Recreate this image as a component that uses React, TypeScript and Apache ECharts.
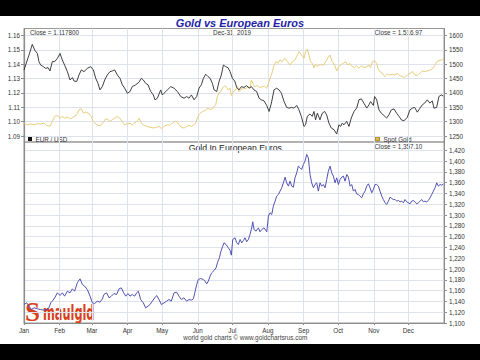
import React, { useEffect, useRef } from "react";
import * as echarts from "echarts";

// x = day of year 2019 (0 = Jan 1)
const monthNames = ["Jan", "Feb", "Mar", "Apr", "May", "Jun", "Jul", "Aug", "Sep", "Oct", "Nov", "Dec"];
const monthStarts = [0, 31, 59, 90, 120, 151, 181, 212, 243, 273, 304, 334];

const eurUsdTicks = [1.09, 1.1, 1.11, 1.12, 1.13, 1.14, 1.15, 1.16];
const goldUsdTicks = [1250, 1300, 1350, 1400, 1450, 1500, 1550, 1600];
const goldEurTicks = [1100, 1120, 1140, 1160, 1180, 1200, 1220, 1240, 1260, 1280, 1300, 1320, 1340, 1360, 1380, 1400, 1420];

const eurUsd: [number, number][] = [
  [0, 1.136], [2.9, 1.1429], [4.3, 1.1463], [7.2, 1.1538], [9.3, 1.1498], [11.6, 1.1475], [13, 1.1418], [14.5, 1.1394],
  [16.8, 1.1383], [18.8, 1.1371], [20.9, 1.1376], [22.6, 1.1353], [24.6, 1.1418], [26.7, 1.1418], [29, 1.1441], [31.3, 1.1475],
  [33.3, 1.1429], [35.3, 1.1394], [37.7, 1.1348], [40, 1.129], [42, 1.1307], [43.5, 1.1283], [45.8, 1.1279], [47.8, 1.1325],
  [49.8, 1.136], [52.1, 1.1348], [55, 1.1371], [57.9, 1.1383], [60.3, 1.136], [62.3, 1.1302], [64.3, 1.1267], [66, 1.1221],
  [68.1, 1.1244], [70.1, 1.129], [72.4, 1.1325], [74.7, 1.1348], [76.8, 1.1353], [78.8, 1.136], [81.1, 1.1325], [83.4, 1.1302],
  [85.5, 1.1256], [87.5, 1.1233], [89.8, 1.1198], [92.1, 1.121], [94.1, 1.1244], [97, 1.1256], [99.9, 1.1274], [102, 1.1302],
  [103.7, 1.129], [105.7, 1.1267], [107.8, 1.1256], [110.1, 1.121], [112.4, 1.1186], [113.8, 1.1152], [115.9, 1.1163], [118.8, 1.1221],
  [120.2, 1.1186], [121.7, 1.1198], [124.6, 1.1221], [127.5, 1.1244], [130.4, 1.1233], [133.3, 1.121], [136.2, 1.1175], [139.1, 1.1163],
  [141.4, 1.1175], [143.4, 1.1163], [145.5, 1.1186], [147.8, 1.1152], [150.1, 1.1175], [152.1, 1.1233], [154.1, 1.1256], [155.9, 1.1302],
  [157.9, 1.133], [159.9, 1.1314], [161.7, 1.1302], [163.7, 1.1267], [165.2, 1.1221], [167.5, 1.121], [169.5, 1.1279], [171.5, 1.1325],
  [173.3, 1.1394], [175.3, 1.1383], [177.3, 1.1376], [179.1, 1.1348], [181.1, 1.1302], [183.1, 1.1283], [184.9, 1.1238], [186.9, 1.1221],
  [188.9, 1.1244], [191.2, 1.1238], [193.5, 1.1251], [195.6, 1.1233], [197.6, 1.1244], [199.9, 1.1221], [202.2, 1.121], [204.3, 1.1163],
  [206.3, 1.1152], [208.6, 1.1145], [210.9, 1.1113], [213, 1.1071], [215, 1.1129], [217.3, 1.1221], [219.6, 1.1233], [221.6, 1.1221],
  [223.7, 1.1198], [226, 1.114], [228.3, 1.1099], [230.3, 1.1094], [232.4, 1.1099], [234.7, 1.1094], [237, 1.1113], [239, 1.1082],
  [241, 1.1037], [243.3, 1.0967], [244.7, 1.0978], [246.2, 1.1037], [248.5, 1.1053], [250.5, 1.1037], [252, 1.1071], [253.4, 1.1013],
  [254.9, 1.1059], [257.2, 1.1013], [259.2, 1.1059], [261.3, 1.1071], [263, 1.1048], [265, 1.099], [267, 1.0956], [269.4, 1.0944],
  [271.7, 1.0914], [273.7, 1.0978], [275.2, 1.0967], [276.6, 1.099], [278.1, 1.0978], [280.4, 1.1002], [282.4, 1.0967], [284.4, 1.1025],
  [286.8, 1.1071], [289.1, 1.1094], [291.1, 1.1152], [293.1, 1.1159], [295.4, 1.1129], [297.8, 1.1094], [299.8, 1.1117], [301.2, 1.114],
  [303.6, 1.1113], [304.7, 1.1175], [306.5, 1.1152], [308.5, 1.1082], [310.5, 1.1059], [312.8, 1.1043], [315.1, 1.1025], [317.2, 1.1048],
  [319.2, 1.1082], [321.5, 1.1089], [323.8, 1.1059], [325.9, 1.1037], [327.9, 1.1013], [330.2, 1.1006], [333.1, 1.103], [335.4, 1.1082],
  [337.5, 1.1094], [339.5, 1.1099], [341.8, 1.1066], [344.1, 1.1094], [346.1, 1.1117], [348.2, 1.1129], [350.5, 1.1152], [352.8, 1.1129],
  [354.8, 1.1145], [356.3, 1.1094], [358.6, 1.1099], [360.6, 1.1175], [362.6, 1.1186], [364.4, 1.1178],
];

const goldUsd: [number, number][] = [
  [0, 1295], [2.9, 1289], [5.8, 1292], [8.7, 1289], [11.6, 1293], [14.5, 1292], [17.4, 1295], [19.7, 1287],
  [22.6, 1284], [24.6, 1301], [26.7, 1318], [29, 1322], [31.3, 1312], [33.3, 1318], [35.3, 1312], [37.7, 1315],
  [40.6, 1310], [43.5, 1318], [45.8, 1324], [47.8, 1341], [49.8, 1345], [51.6, 1330], [53.6, 1333], [55.6, 1330],
  [57.9, 1322], [60.3, 1301], [62.3, 1292], [64.3, 1287], [66.6, 1287], [68.9, 1299], [71, 1310], [73, 1307],
  [74.7, 1301], [76.8, 1307], [78.8, 1312], [81.1, 1318], [83.4, 1312], [85.5, 1299], [87.5, 1289], [89.8, 1293],
  [92.1, 1295], [94.1, 1289], [96.2, 1295], [98.5, 1303], [99.9, 1312], [102, 1295], [104.3, 1287], [106.6, 1284],
  [109.5, 1280], [112.4, 1278], [115.3, 1280], [117.3, 1284], [119.4, 1276], [121.7, 1283.6], [124.6, 1289.4], [126.9, 1287.1],
  [128.9, 1295.1], [131, 1300.9], [132.7, 1300.9], [134.7, 1289.4], [136.8, 1280.1], [139.1, 1277.8], [141.4, 1283.6], [143.4, 1287.1],
  [145.5, 1283.6], [147.8, 1289.4], [149.2, 1295.1], [150.7, 1312.5], [152.1, 1324], [154.1, 1333.2], [155.9, 1335.5], [157.9, 1341.3],
  [159.9, 1347.1], [162.3, 1341.3], [164.6, 1349.4], [166.6, 1358.7], [168.1, 1387.5], [169.5, 1399.1], [171, 1404.9], [172.4, 1416.4],
  [174.4, 1425.6], [176.2, 1418.7], [177.3, 1410.6], [179.1, 1416.4], [180.2, 1391], [182, 1404.9], [184, 1410.6], [185.4, 1422.2],
  [186.9, 1404.9], [188.3, 1410.6], [190.6, 1416.4], [192.7, 1414.1], [194.7, 1422.2], [196.4, 1416.4], [197.6, 1445.3], [199.3, 1430.3],
  [200.5, 1422.2], [202.8, 1425.6], [205.1, 1418.7], [207.2, 1422.2], [209.2, 1422.2], [210.9, 1416.4], [213, 1439.5], [214.4, 1456.8],
  [215.9, 1474.2], [217.3, 1497.2], [219, 1508.8], [220.8, 1503], [222.5, 1514.6], [224.5, 1508.8], [226.6, 1520.4], [228.9, 1508.8],
  [231.2, 1497.2], [233.2, 1508.8], [235.3, 1514.6], [237, 1526.2], [239, 1543.5], [241, 1534.2], [243.3, 1520.4], [244.7, 1543.5],
  [246.2, 1552.7], [247.6, 1531.9], [249.1, 1508.8], [250.5, 1503], [252, 1488], [253.4, 1499.6], [254.9, 1491.5], [256.3, 1497.2],
  [258.4, 1499.6], [260.1, 1495], [262.1, 1508.8], [264.2, 1522.7], [265.9, 1531.9], [267.9, 1508.8], [270, 1497.2], [271.7, 1476.5],
  [273.7, 1491.5], [275.7, 1499.6], [277.5, 1503], [279.5, 1508.8], [281.5, 1497.2], [283.3, 1503], [285.3, 1491.5], [287.3, 1488],
  [289.1, 1495], [291.1, 1485.7], [293.1, 1495], [295.4, 1488], [297.8, 1491.5], [299.8, 1497.2], [301.2, 1488], [302.7, 1508.8],
  [304.7, 1512.3], [306.5, 1503], [307.6, 1485.7], [309.3, 1474.2], [311.4, 1468.4], [313.4, 1456.8], [315.7, 1464.9], [318, 1462.6],
  [320.1, 1464.9], [322.1, 1462.6], [324.4, 1468.4], [326.7, 1460.3], [328.8, 1456.8], [330.8, 1453.4], [333.1, 1462.6], [335.4, 1468.4],
  [337.5, 1474.2], [339.5, 1462.6], [341.8, 1460.3], [344.1, 1468.4], [346.1, 1476.5], [348.2, 1474.2], [350.5, 1476.5], [352.8, 1479.9],
  [354.8, 1483.4], [356.9, 1494.9], [358.6, 1508.8], [360.6, 1512.3], [362.6, 1514.6], [364.4, 1516.97],
];

const goldEur: [number, number][] = [
  [0, 1134.2], [2.3, 1137.3], [4.3, 1131.2], [6.4, 1125], [8.7, 1128.1], [11.6, 1126.2], [14.5, 1125], [17.4, 1123.8],
  [19.7, 1125], [21.7, 1128.1], [23.2, 1137.3], [24.6, 1140.4], [26.7, 1146.6], [29, 1155.9], [31.3, 1150.9], [33.3, 1155.9],
  [35.3, 1149.7], [37.7, 1158.9], [40, 1155.9], [42, 1163.3], [44, 1158.9], [46.3, 1174.4], [48.7, 1181.8], [50.7, 1171.3],
  [52.7, 1168.2], [55, 1162], [57.4, 1149.7], [59.4, 1137.3], [61.4, 1136.1], [63.7, 1140.4], [66, 1138.6], [68.1, 1144.7],
  [69.5, 1152.8], [71.8, 1155.9], [73.9, 1146.6], [75.9, 1149.7], [78.2, 1154.6], [80.5, 1152.8], [82.6, 1163.3], [84.6, 1165.1],
  [86.3, 1157.1], [88.4, 1149.7], [90.4, 1154.6], [92.1, 1149.7], [94.1, 1152.8], [96.2, 1149.7], [97.9, 1155.9], [99.4, 1158.9],
  [101.4, 1143.5], [103.7, 1137.3], [105.7, 1128.1], [107.8, 1131.2], [109.5, 1134.2], [111.5, 1140.4], [113.6, 1146.6], [115.3, 1150.9],
  [117.3, 1143.5], [119.4, 1134.2], [121.7, 1137.3], [124, 1140.4], [126, 1143.5], [128, 1140.4], [130.4, 1155.9], [132.7, 1157.1],
  [134.7, 1149.7], [136.7, 1143.5], [139, 1146.6], [141.4, 1140.4], [143.4, 1143.5], [145.4, 1142.3], [147.2, 1144.7], [150.1, 1171.3],
  [151.5, 1180.6], [153.6, 1182.4], [155.9, 1180.6], [157.3, 1177.5], [158.8, 1172.6], [160.2, 1177.5], [161.7, 1186.8], [163.1, 1192.9],
  [165.2, 1197.3], [166.9, 1202.2], [168.1, 1211.5], [169.8, 1220.7], [171, 1231.8], [172.7, 1242.3], [173.8, 1248.5], [175.6, 1245.4],
  [177.6, 1239.2], [179.1, 1234.3], [180.2, 1225.6], [181.4, 1254.7], [183.4, 1257.8], [184.9, 1248.5], [186.3, 1245.4], [187.8, 1254.7],
  [189.2, 1248.5], [190.7, 1252.8], [192.1, 1257.8], [193.5, 1250.4], [195, 1254.7], [196.4, 1263.9], [197.9, 1276.3], [198.8, 1287.4],
  [199.9, 1273.2], [201.7, 1270.1], [203.7, 1276.3], [205.1, 1268.9], [206.6, 1273.2], [208.6, 1276.3], [211, 1268.9], [212.4, 1297.9],
  [213.8, 1304.1], [215.3, 1301], [216.7, 1316.4], [218.2, 1325.7], [219.6, 1334.9], [221.1, 1338], [222.5, 1344.2], [224, 1350.4],
  [225.4, 1359.6], [226.9, 1370.1], [228.3, 1359.6], [229.8, 1353.4], [231.2, 1362.7], [232.7, 1353.4], [234.1, 1351.6], [235.5, 1368.9],
  [237, 1378.1], [238.4, 1390.5], [239.9, 1387.4], [241.3, 1384.3], [242.8, 1393.6], [244.2, 1399.7], [245.7, 1412.1], [247.1, 1405.9],
  [248.6, 1375], [250, 1359.6], [251.5, 1350.4], [252.9, 1356.5], [254.4, 1359.6], [255.8, 1344.2], [257.3, 1359.6], [258.7, 1353.4],
  [260.2, 1356.5], [261.6, 1350.4], [263.1, 1365.8], [264.5, 1381.2], [266, 1390.5], [267.4, 1378.1], [268.9, 1372], [270.3, 1359.6],
  [271.8, 1368.9], [273.2, 1356.5], [274.7, 1365.8], [276.1, 1370.1], [277.6, 1372], [279, 1362.7], [280.5, 1375], [281.9, 1370.1],
  [283.4, 1353.4], [284.8, 1356.5], [286.3, 1344.2], [287.7, 1347.3], [289.1, 1339.2], [290.6, 1338], [292, 1334.9], [293.5, 1331.8],
  [294.9, 1339.2], [296.4, 1344.2], [297.8, 1353.4], [299.3, 1357.8], [300.7, 1350.4], [302.2, 1341.1], [303.6, 1347.3], [305.1, 1356.5],
  [306.5, 1356.5], [308, 1353.4], [309.4, 1344.2], [310.9, 1334.9], [312.3, 1328.7], [313.8, 1322.6], [315.2, 1319.5], [316.7, 1325.7],
  [318.1, 1333.1], [319.6, 1330.6], [321, 1328.7], [322.5, 1328.7], [323.9, 1325.7], [325.4, 1326.9], [326.8, 1324.4], [328.3, 1325.7],
  [329.7, 1322.6], [331.1, 1328.7], [332.6, 1324.4], [334, 1322.6], [335.5, 1320.7], [336.9, 1325.7], [338.4, 1326.9], [339.8, 1324.4],
  [341.3, 1320.7], [342.7, 1322.6], [344.2, 1325.7], [345.6, 1328.7], [347.1, 1324.4], [348.5, 1325.7], [350, 1324.4], [351.4, 1326.9],
  [352.9, 1331.8], [354.3, 1338], [355.8, 1344.2], [357.2, 1350.4], [358.7, 1359.6], [360.1, 1353.4], [361.6, 1356.5], [363, 1355.3],
  [364.5, 1357.1],
];

const FONT = '"Liberation Sans", Arial, sans-serif';
const gridLine = { show: true, lineStyle: { color: "#dde2ed", width: 1 } };
const axisGray = "#8c8c8c";
const labelStyle = { fontSize: 6.3, color: "#333", fontFamily: FONT };

export default function App() {
  const ref = useRef<HTMLDivElement>(null);
  useEffect(() => {
    if (!ref.current) return;
    const chart = echarts.init(ref.current, undefined, { renderer: "svg" });
    const option: any = {
      animation: false,
      backgroundColor: "#ffffff",
      grid: [
        { left: 24, top: 28.5, width: 420, height: 113.5, show: true, borderColor: "#999", borderWidth: 1, backgroundColor: "transparent" },
        { left: 24, top: 142, width: 420, height: 181, show: true, borderColor: "#999", borderWidth: 1, backgroundColor: "transparent" },
      ],
      xAxis: [
        {
          type: "value", gridIndex: 0, min: 0, max: 365,
          axisLine: { show: false },
          axisTick: { show: false, customValues: monthStarts },
          axisLabel: { show: false, customValues: monthStarts },
          splitLine: gridLine,
        },
        {
          type: "value", gridIndex: 1, min: 0, max: 365,
          axisLine: { show: true, lineStyle: { color: axisGray } },
          axisTick: { show: true, length: 2, customValues: monthStarts, lineStyle: { color: axisGray } },
          axisLabel: {
            ...labelStyle, margin: 4, customValues: monthStarts,
            formatter: (v: number) => monthNames[monthStarts.indexOf(Math.round(v))] || "",
          },
          splitLine: gridLine,
        },
      ],
      yAxis: [
        {
          type: "value", gridIndex: 0, position: "left", min: 1.08584, max: 1.16485,
          axisLine: { show: true, lineStyle: { color: axisGray, width: 1.2 } },
          axisTick: { show: true, length: 3, customValues: eurUsdTicks, lineStyle: { color: axisGray } },
          axisLabel: { ...labelStyle, margin: 4, customValues: eurUsdTicks, formatter: (v: number) => v.toFixed(2) },
          splitLine: gridLine,
        },
        {
          type: "value", gridIndex: 0, position: "right", min: 1229.2, max: 1624.3,
          axisLine: { show: true, lineStyle: { color: axisGray } },
          axisTick: { show: true, length: 3, customValues: goldUsdTicks, lineStyle: { color: axisGray } },
          axisLabel: { ...labelStyle, margin: 5, customValues: goldUsdTicks, formatter: (v: number) => String(Math.round(v)) },
          splitLine: { show: false },
        },
        {
          type: "value", gridIndex: 1, position: "left", min: 1100, max: 1435.2,
          axisLine: { show: true, lineStyle: { color: axisGray, width: 1.2 } },
          axisTick: { show: false, customValues: goldEurTicks },
          axisLabel: { show: false, customValues: goldEurTicks },
          splitLine: gridLine,
        },
        {
          type: "value", gridIndex: 1, position: "right", min: 1100, max: 1435.2,
          axisLine: { show: true, lineStyle: { color: axisGray } },
          axisTick: { show: true, length: 3, customValues: goldEurTicks, lineStyle: { color: axisGray } },
          axisLabel: { ...labelStyle, margin: 5, customValues: goldEurTicks, formatter: (v: number) => Math.round(v).toLocaleString("en-US") },
          splitLine: { show: false },
        },
      ],
      series: [
        {
          name: "Spot Gold", type: "line", xAxisIndex: 0, yAxisIndex: 1, data: goldUsd, symbol: "none",
          lineStyle: { color: "#e8cd7c", width: 1 }, itemStyle: { color: "#e8cd7c" }, silent: true,
        },
        {
          name: "EUR / USD", type: "line", xAxisIndex: 0, yAxisIndex: 0, data: eurUsd, symbol: "none",
          lineStyle: { color: "#2a2a2a", width: 0.9 }, itemStyle: { color: "#2a2a2a" }, silent: true,
        },
        {
          name: "Gold In European Euros", type: "line", xAxisIndex: 1, yAxisIndex: 3, data: goldEur, symbol: "none",
          lineStyle: { color: "#5252b4", width: 1 }, itemStyle: { color: "#5252b4" }, silent: true,
        },
      ],
      graphic: [
        { type: "rect", shape: { x: 0, y: 0, width: 480, height: 16 }, style: { fill: "#000" }, silent: true },
        { type: "rect", shape: { x: 0, y: 344, width: 480, height: 16 }, style: { fill: "#000" }, silent: true },
        {
          type: "text", x: 240, y: 23,
          style: { text: "Gold vs European Euros", align: "center", verticalAlign: "middle", fontSize: 11, fontWeight: "bold", fontStyle: "italic", fontFamily: FONT, fill: "#1f1fa8" },
        },
        { type: "text", x: 30, y: 32.5, style: { text: "Close = 1.117800", verticalAlign: "middle", fontSize: 6.3, fontFamily: FONT, fill: "#333" } },
        { type: "text", x: 232, y: 32.5, style: { text: "Dec-31  2019", align: "center", verticalAlign: "middle", fontSize: 6.3, fontFamily: FONT, fill: "#333" } },
        { type: "text", x: 374.5, y: 32.5, style: { text: "Close = 1,516.97", verticalAlign: "middle", fontSize: 6.3, fontFamily: FONT, fill: "#333" } },
        { type: "rect", shape: { x: 28, y: 137, width: 4, height: 4 }, style: { fill: "#111" } },
        { type: "text", x: 35.5, y: 139, style: { text: "EUR / USD", verticalAlign: "middle", fontSize: 6.3, fontFamily: FONT, fill: "#333" } },
        { type: "rect", shape: { x: 375.5, y: 137, width: 4, height: 4 }, style: { fill: "#e2b93c", stroke: "#7a5a18", lineWidth: 0.6 } },
        { type: "text", x: 383.5, y: 139, style: { text: "Spot Gold", verticalAlign: "middle", fontSize: 6.3, fontFamily: FONT, fill: "#333" } },
        { type: "text", x: 235.3, y: 147.8, style: { text: "Gold In European Euros", align: "center", verticalAlign: "middle", fontSize: 8.7, fontFamily: FONT, fill: "#222" } },
        { type: "text", x: 374.5, y: 146.3, style: { text: "Close = 1,357.10", verticalAlign: "middle", fontSize: 6.3, fontFamily: FONT, fill: "#333" } },
        { type: "text", x: 245.3, y: 337.8, style: { text: "world gold charts © www.goldchartsrus.com", align: "center", verticalAlign: "middle", fontSize: 6.4, fontFamily: FONT, fill: "#444" } },
        {
          type: "text", x: 25, y: 312,
          style: { text: "S", verticalAlign: "middle", fontSize: 27, fontWeight: "bold", fontFamily: '"Liberation Serif", serif', fill: "#d8401c", textShadowColor: "#5a1a0a", textShadowOffsetX: 1, textShadowOffsetY: 1, textShadowBlur: 0 },
        },
        {
          type: "text", x: 43, y: 313, scaleX: 0.6,
          style: { text: "maulgld", verticalAlign: "middle", fontSize: 21, fontWeight: "bold", fontFamily: '"Liberation Sans Narrow", "DejaVu Sans Condensed", sans-serif', fill: "#d8401c", textShadowColor: "#5a1a0a", textShadowOffsetX: 0.8, textShadowOffsetY: 0.8, textShadowBlur: 0 },
        },
      ],
    };
    chart.setOption(option);
    return () => chart.dispose();
  }, []);
  return <div ref={ref} style={{ position: "fixed", left: 0, top: 0, width: 480, height: 360, background: "#fff" }} />;
}
